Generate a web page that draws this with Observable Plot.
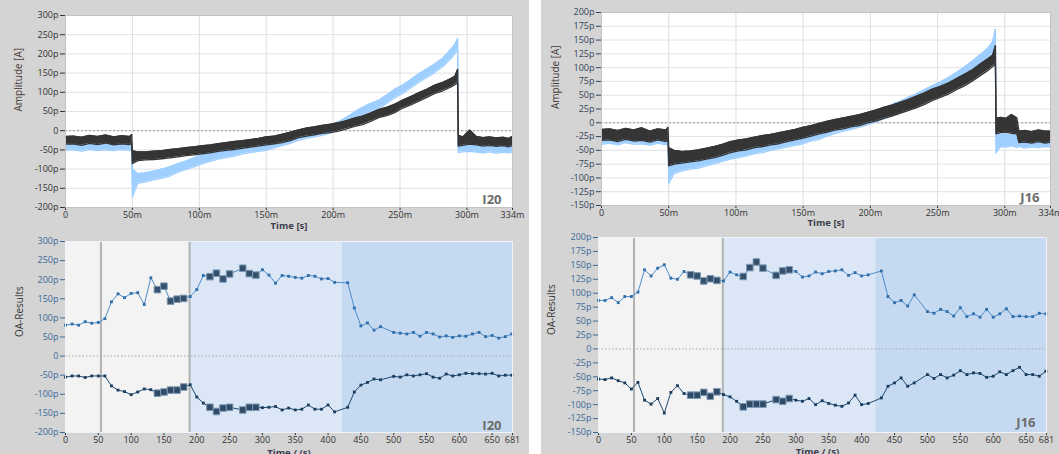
<!DOCTYPE html>
<html><head><meta charset="utf-8">
<script src="https://cdn.jsdelivr.net/npm/d3@7"></script>
<script src="https://cdn.jsdelivr.net/npm/@observablehq/plot@0.6"></script>
<style>
body{margin:0;background:#fff;}
#root{position:relative;width:1059px;height:454px;overflow:hidden;}
.panel{position:absolute;overflow:hidden;background:#d4d4d4;}
.panel svg{display:block;}
</style></head><body><div id="root"></div><script>
// ---------------- DATA ----------------
// Top charts: time in ms, noisy traces described by lower/upper envelope (pA)
const i20Time = [0,6,12,18,24,30,36,42,48,49.5,
  50,54,60,66,72,78,84,90,96,102,108,114,120,126,132,138,144,150,156,162,168,174,180,186,192,198,204,210,216,222,228,234,240,246,252,258,264,270,276,282,288,291,293,
  293.5,297,302,307,312,317,322,327,331,334];
const i20DarkLo = [-35,-34,-38,-33,-36,-32,-37,-34,-36,-33,
  -86,-78,-76,-75,-73,-71,-68,-65,-63,-60,-58,-54,-51,-49,-46,-43,-40,-37,-34,-31,-26,-18,-14,-11,-7,-5,-1,5,11,16,24,34,39,47,59,67,77,87,97,104,114,120,125,
  -40,-38,-35,-37,-40,-38,-41,-39,-42,-38];
const i20DarkHi = [-15,-14,-17,-12,-15,-11,-16,-13,-15,-10,
  -52,-55,-55,-53,-52,-49,-47,-44,-42,-39,-37,-34,-31,-28,-26,-23,-20,-16,-14,-9,-4,2,7,10,14,17,21,26,33,38,46,55,61,69,80,89,99,108,119,126,136,142,160,
  -12,-16,2,-15,-18,-16,-19,-17,-20,-15];
const i20LightLo = [-51,-50,-53,-49,-52,-50,-52,-49,-51,-50,
  -172,-137,-133,-128,-124,-118,-108,-101,-94,-86,-80,-74,-70,-66,-61,-57,-54,-51,-45,-39,-33,-25,-20,-16,-12,-6,2,13,27,39,49,57,71,86,97,111,126,139,152,167,188,200,212,
  -57,-55,-54,-56,-58,-55,-59,-56,-58,-55];
const i20LightHi = [-30,-29,-31,-28,-30,-27,-31,-28,-30,-27,
  -100,-112,-109,-105,-100,-94,-86,-79,-71,-62,-56,-51,-46,-42,-39,-35,-32,-29,-23,-17,-11,-3,2,6,10,16,23,35,49,61,71,79,93,108,119,133,148,161,174,189,212,225,240,
  -28,-32,-31,-33,-34,-32,-35,-33,-35,-33];

const j16Time = [0,6,12,18,24,30,36,42,48,49.5,
  50,54,60,66,72,78,84,90,96,102,108,114,120,126,132,138,144,150,156,162,168,174,180,186,192,198,204,210,216,222,228,234,240,246,252,258,264,270,276,282,288,291,293,
  293.5,297,301,305,309,310.5,315,320,325,330,334];
const j16DarkLo = [-32,-31,-34,-30,-33,-32,-35,-31,-34,-30,
  -78,-75,-73,-71,-69,-66,-63,-59,-54,-51,-49,-45,-43,-40,-38,-34,-31,-28,-24,-20,-17,-13,-11,-7,-5,0,3,8,12,17,22,27,33,40,46,52,60,67,76,86,96,102,108,
  -20,-18,-17,-19,-20,-36,-35,-37,-34,-37,-35];
const j16DarkHi = [-12,-11,-14,-10,-13,-9,-15,-11,-13,-8,
  -45,-50,-52,-51,-49,-46,-43,-39,-34,-31,-29,-26,-23,-21,-18,-15,-12,-8,-5,-1,3,6,9,12,15,19,23,28,32,37,42,48,54,61,66,72,80,88,96,107,117,123,140,
  8,10,8,15,9,-15,-14,-16,-13,-15,-15];
const j16LightLo = [-39,-37,-40,-36,-39,-38,-41,-37,-40,-38,
  -110,-92,-87,-84,-82,-78,-74,-70,-66,-63,-60,-56,-54,-50,-47,-44,-41,-38,-33,-30,-24,-19,-15,-12,-8,-4,1,7,13,19,26,32,40,47,54,62,70,80,91,103,116,125,135,
  -55,-43,-44,-42,-45,-43,-46,-44,-45,-43,-44];
const j16LightHi = [-19,-18,-20,-17,-19,-18,-21,-17,-20,-15,
  -70,-69,-65,-62,-59,-56,-52,-48,-44,-41,-38,-35,-32,-29,-26,-23,-20,-16,-12,-8,-3,1,5,8,12,16,21,27,33,39,46,52,60,67,74,82,91,101,112,124,137,147,170,
  -20,-21,-20,-22,-21,-20,-22,-21,-22,-20,-21];

// Bottom charts: OA results (pA) vs time (s)
const oaTime = [0,10,20,30,40,50,60,70,80,90,100,110,120,130,140,150,160,170,180,190,200,210,220,230,240,250,
  270,280,290,300,310,320,330,340,350,360,370,380,390,400,410,
  430,440,450,460,470,480,
  500,510,520,530,540,550,560,570,580,590,600,610,620,630,640,650,660,670,680];
const i20Upper = [81,84,81,90,86,88,98,142,163,153,164,166,135,205,174,183,144,149,151,156,174,211,208,217,202,215,
  230,216,212,226,212,191,211,209,206,204,211,209,202,203,193,
  192,126,79,87,68,77,
  62,60,58,62,52,62,58,50,53,49,53,52,58,62,51,54,47,51,58];
const i20Lower = [-55,-52,-52,-56,-52,-52,-52,-78,-89,-93,-101,-94,-86,-88,-97,-94,-89,-89,-81,-75,-107,-123,-134,-145,-136,-134,
  -141,-134,-134,-135,-134,-132,-141,-136,-141,-139,-128,-139,-139,-128,-146,
  -134,-94,-76,-69,-60,-62,
  -53,-55,-49,-52,-49,-46,-55,-58,-47,-52,-49,-45,-46,-46,-47,-45,-52,-50,-50];
const j16Upper = [87,87,92,83,94,94,102,142,131,145,151,127,125,139,133,131,122,126,123,122,138,133,130,146,156,145,
  132,140,142,139,129,131,138,135,139,140,142,132,137,131,133,
  140,94,83,87,77,97,
  67,64,71,67,59,74,58,63,57,71,57,63,72,58,59,58,58,64,63];
const j16Lower = [-54,-55,-52,-57,-61,-72,-60,-92,-99,-89,-115,-78,-66,-80,-83,-83,-78,-85,-77,-82,-86,-94,-104,-99,-99,-99,
  -91,-94,-89,-92,-94,-89,-100,-93,-98,-101,-103,-97,-83,-100,-98,
  -88,-67,-61,-52,-67,-61,
  -46,-53,-46,-52,-47,-39,-46,-43,-44,-51,-49,-41,-46,-39,-33,-46,-46,-49,-40];
const flaggedTimes = [140,150,160,170,180,220,230,240,250,270,280,290];

const phaseStart = [0, 54, 189, 422];
const phaseEnd = [54, 189, 422, 681];
const phaseDividers = [54, 189];

const topXTicks = [0,50,100,150,200,250,300,334];
const botXTicks = [0,50,100,150,200,250,300,350,400,450,500,550,600,650,681];
const i20Ticks = [-200,-150,-100,-50,0,50,100,150,200,250,300];
const j16Ticks = [-150,-125,-100,-75,-50,-25,0,25,50,75,100,125,150,175,200];

// ---------------- STYLE ----------------
const PANEL_BG = "#d4d4d4";
const LIGHT = "#9ecfff", DARK = "#353535";
const phaseFill = ["#f3f3f3", "#f3f3f3", "#dbe7f6", "#c5daf1"];
const FONT = "'Open Sans', 'Noto Sans', sans-serif";
const pFmt = d => d === 0 ? "0" : `${d}p`;
const mFmt = d => d === 0 ? "0" : `${d}m`;
const root = document.getElementById("root");

function mount(svg, box, yColor) {
  if (yColor) svg.querySelectorAll('g[aria-label^="y-axis"]').forEach(g => g.style.color = yColor);
  const div = document.createElement("div");
  div.className = "panel";
  Object.assign(div.style, {left: box.left + "px", top: box.top + "px", width: box.width + "px", height: box.height + "px"});
  div.appendChild(svg);
  root.appendChild(div);
}

function rows(time, lo, hi) { return time.map((t, i) => ({t, lo: lo[i], hi: hi[i]})); }

function traceMarks(data, color) {
  return [
    Plot.areaY(data, {x: "t", y1: "lo", y2: "hi", fill: color}),
    Plot.line(data, {x: "t", y: "lo", stroke: color, strokeWidth: 1.3}),
    Plot.line(data, {x: "t", y: "hi", stroke: color, strokeWidth: 1.3})
  ];
}

function topChart(o) {
  const yDom = [o.ticks[0], o.ticks[o.ticks.length - 1]];
  return Plot.plot({
    width: o.box.width, height: o.box.height,
    marginLeft: o.m[0], marginRight: o.m[1], marginTop: o.m[2], marginBottom: o.m[3],
    style: {background: PANEL_BG, fontFamily: FONT, fontSize: "9px", color: "#333"},
    x: {domain: [0, 334], ticks: topXTicks, tickFormat: mFmt, tickSize: 3, tickPadding: 1, label: null},
    y: {domain: yDom, ticks: o.ticks, tickFormat: pFmt, tickSize: 5, tickPadding: 2, label: null},
    marks: [
      Plot.frame({fill: "white"}),
      Plot.ruleX(topXTicks.slice(1, -1), {stroke: "#dedede"}),
      Plot.ruleY(o.ticks.slice(1, -1), {stroke: "#e2e2e2"}),
      Plot.ruleY([0], {stroke: "#999", strokeDasharray: "2,2"}),
      ...traceMarks(rows(o.time, o.lightLo, o.lightHi), LIGHT),
      ...traceMarks(rows(o.time, o.darkLo, o.darkHi), DARK),
      Plot.frame({stroke: "#c2c2c2"}),
      Plot.text([o.tag], {frameAnchor: "bottom-right", textAnchor: "end", lineAnchor: "bottom", dx: -11, dy: -4, fontSize: 13, fontWeight: "bold", fill: "#6c6c6c"}),
      Plot.text(["Amplitude [A]"], {frameAnchor: "left", rotate: -90, dx: o.titleDx, fontSize: 10, fill: "#4a3c3c"}),
      Plot.text(["Time [s]"], {frameAnchor: "bottom", dy: o.xTitleDy, fontSize: 9.5, fontWeight: "bold", fill: "#3c3c4c"})
    ]
  });
}

function botChart(o) {
  const yDom = [o.ticks[0], o.ticks[o.ticks.length - 1]];
  const up = oaTime.map((t, i) => ({t, v: o.upper[i], big: flaggedTimes.includes(t)}));
  const lo = oaTime.map((t, i) => ({t, v: o.lower[i], big: flaggedTimes.includes(t)}));
  const phaseMarks = phaseStart.map((s, i) => Plot.rect([i], {x1: () => s, x2: () => phaseEnd[i], y1: () => yDom[0], y2: () => yDom[1], fill: phaseFill[i]}));
  return Plot.plot({
    width: o.box.width, height: o.box.height,
    marginLeft: o.m[0], marginRight: o.m[1], marginTop: o.m[2], marginBottom: o.m[3],
    style: {background: PANEL_BG, fontFamily: FONT, fontSize: "9px", color: "#333"},
    x: {domain: [0, 681], ticks: botXTicks, tickFormat: d => `${d}`, tickSize: 3, tickPadding: 1, label: null},
    y: {domain: yDom, ticks: o.ticks, tickFormat: pFmt, tickSize: 5, tickPadding: 2, label: null},
    marks: [
      ...phaseMarks,
      Plot.ruleX(phaseDividers, {stroke: "#b2b2b2", strokeWidth: 2}),
      Plot.ruleY([0], {stroke: "#a8a8a8", strokeDasharray: "1.5,2"}),
      Plot.line(up, {x: "t", y: "v", stroke: "#4f8cc8", strokeWidth: 1}),
      Plot.dot(up.filter(d => !d.big), {x: "t", y: "v", symbol: "square", r: 1.6, fill: "#2f6ea9"}),
      Plot.dot(up.filter(d => d.big), {x: "t", y: "v", symbol: "square", r: 3.7, fill: "#34506c", stroke: "#7d98b3", strokeWidth: 1}),
      Plot.line(lo, {x: "t", y: "v", stroke: "#1f4a72", strokeWidth: 1}),
      Plot.dot(lo.filter(d => !d.big), {x: "t", y: "v", symbol: "square", r: 1.6, fill: "#1b3c5d"}),
      Plot.dot(lo.filter(d => d.big), {x: "t", y: "v", symbol: "square", r: 3.7, fill: "#2e4a66", stroke: "#7d98b3", strokeWidth: 1}),
      Plot.frame({stroke: "#eef3fa"}),
      Plot.text([o.tag], {frameAnchor: "bottom-right", textAnchor: "end", lineAnchor: "bottom", dx: -11, dy: o.tagDy, fontSize: 13, fontWeight: "bold", fill: "#6c6c6c"}),
      Plot.text(["OA-Results"], {frameAnchor: "left", rotate: -90, dx: o.titleDx, fontSize: 10, fill: "#333"}),
      Plot.text(["Time / (s)"], {frameAnchor: "bottom", dx: o.xTitleDx, dy: o.xTitleDy, fontSize: 9.5, fontWeight: "bold", fill: "#3c3c4c"})
    ]
  });
}

// Top-left: I20
const tlBox = {left: 0, top: 0, width: 529, height: 231};
mount(topChart({box: tlBox, m: [65, 17, 15, 24], ticks: i20Ticks, time: i20Time,
  darkLo: i20DarkLo, darkHi: i20DarkHi, lightLo: i20LightLo, lightHi: i20LightHi, tag: "I20", titleDx: -47, xTitleDy: 21}), tlBox, "#333");

// Top-right: J16
const trBox = {left: 541, top: 0, width: 518, height: 228};
mount(topChart({box: trBox, m: [60, 9, 12, 23], ticks: j16Ticks, time: j16Time,
  darkLo: j16DarkLo, darkHi: j16DarkHi, lightLo: j16LightLo, lightHi: j16LightHi, tag: "J16", titleDx: -46, xTitleDy: 20}), trBox, "#34465a");

// Bottom-left: I20 OA results
const blBox = {left: 0, top: 231, width: 529, height: 223};
mount(botChart({box: blBox, m: [65, 17, 10, 22], ticks: i20Ticks, upper: i20Upper, lower: i20Lower,
  tag: "I20", tagDy: -3, titleDx: -46, xTitleDx: 0, xTitleDy: 23}), blBox, "#3b6a98");

// Bottom-right: J16 OA results
const brBox = {left: 541, top: 228, width: 518, height: 226};
mount(botChart({box: brBox, m: [57, 13, 9, 22], ticks: j16Ticks, upper: j16Upper, lower: j16Lower,
  tag: "J16", tagDy: -6, titleDx: -47, xTitleDx: -5, xTitleDy: 22}), brBox, "#3b6a98");
</script></body></html>
